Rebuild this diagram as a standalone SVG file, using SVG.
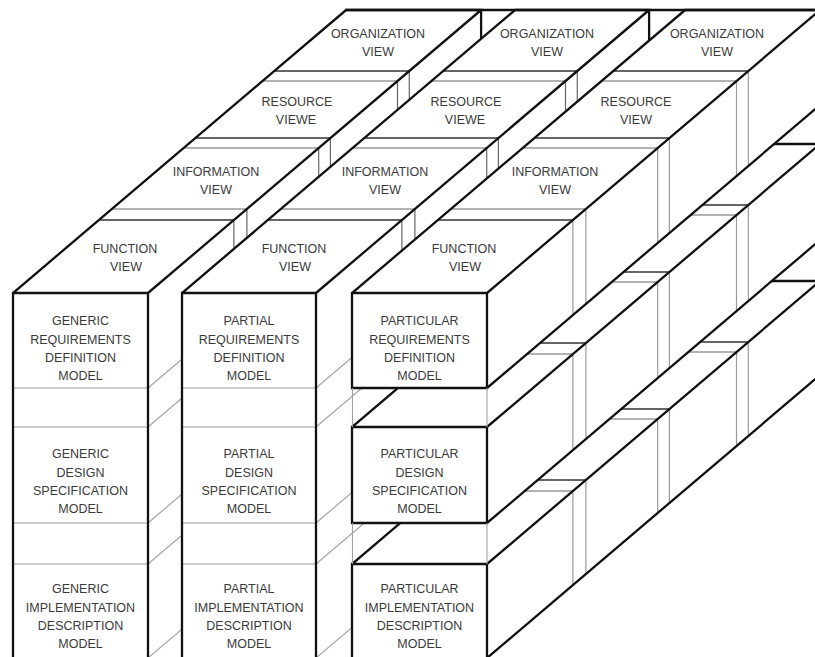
<svg xmlns="http://www.w3.org/2000/svg" width="815" height="657" viewBox="0 0 815 657">
<style>
.fill{fill:#fff;stroke:none}
.edge{fill:none;stroke:#111;stroke-width:2.3;stroke-linejoin:miter;stroke-linecap:square}
.dk{fill:none;stroke:#333;stroke-width:1.3}
.lt{fill:none;stroke:#999;stroke-width:1.3}
.vs{fill:none;stroke:#666;stroke-width:1.2}
.vr{fill:none;stroke:#9a9a9a;stroke-width:1.2}
.row{fill:none;stroke:#a0a0a0;stroke-width:1.1}
text{font-family:"Liberation Sans",Arial,sans-serif;font-size:12.5px;fill:#3a3a3a;text-anchor:middle}
</style>
<rect width="815" height="657" fill="#fff"/>

<!-- Generic column: one prism, views along depth, models down the front -->
<g id="generic">
  <polygon class="fill" points="13,293 346.1,10 481.1,10 481.1,375 148,658 13,658"/>
  <path class="row" d="M13,388H148M13,427H148M13,523H148M13,564H148M148,388L481.1,105M148,427L481.1,144M148,523L481.1,240M148,564L481.1,281M148,658L481.1,375"/>
  <path class="vs" d="M233.9,220V585M246.9,209V574M318.7,148V513M330.4,138V503M397.5,81V446M409.3,71V436"/>
  <path class="dk" d="M98.9,220H233.9M195.4,138H330.4M274.3,71H409.3"/>
  <path class="lt" d="M111.9,209H246.9M183.7,148H318.7M262.5,81H397.5"/>
  <path class="edge" d="M13,660V293L346.1,10H481.1V375M13,293H148L481.1,10M148,293V660"/>
  <g id="generic-function-view"><text x="125" y="253">FUNCTION</text><text x="126" y="271">VIEW</text></g>
  <g id="generic-information-view"><text x="216" y="176">INFORMATION</text><text x="216" y="194">VIEW</text></g>
  <g id="generic-resource-view"><text x="297" y="106">RESOURCE</text><text x="296" y="124">VIEWE</text></g>
  <g id="generic-organization-view"><text x="378" y="38">ORGANIZATION</text><text x="378" y="56">VIEW</text></g>
  <g id="generic-requirements"><text x="80.5" y="325">GENERIC</text><text x="80.5" y="343.5">REQUIREMENTS</text><text x="80.5" y="361.5">DEFINITION</text><text x="80.5" y="379.5">MODEL</text></g>
  <g id="generic-design"><text x="80.5" y="458">GENERIC</text><text x="80.5" y="476.5">DESIGN</text><text x="80.5" y="495">SPECIFICATION</text><text x="80.5" y="513">MODEL</text></g>
  <g id="generic-implementation"><text x="80.5" y="593">GENERIC</text><text x="80.5" y="611.5">IMPLEMENTATION</text><text x="80.5" y="630">DESCRIPTION</text><text x="80.5" y="648">MODEL</text></g>
</g>

<!-- Partial column -->
<g id="partial">
  <polygon class="fill" points="182,293 515.1,10 649.1,10 649.1,375 316,658 182,658"/>
  <path class="row" d="M182,388H316M182,427H316M182,523H316M182,564H316M316,388L649.1,105M316,427L649.1,144M316,523L649.1,240M316,564L649.1,281M316,658L649.1,375"/>
  <path class="vs" d="M401.9,220V585M414.9,209V574M486.7,148V513M498.4,138V503M565.5,81V446M577.3,71V436"/>
  <path class="dk" d="M267.9,220H401.9M364.4,138H498.4M443.3,71H577.3"/>
  <path class="lt" d="M280.9,209H414.9M352.7,148H486.7M431.5,81H565.5"/>
  <path class="edge" d="M182,660V293L515.1,10H649.1V375M182,293H316L649.1,10M316,293V660"/>
  <g id="partial-function-view"><text x="294" y="253">FUNCTION</text><text x="295" y="271">VIEW</text></g>
  <g id="partial-information-view"><text x="385" y="176">INFORMATION</text><text x="385" y="194">VIEW</text></g>
  <g id="partial-resource-view"><text x="466" y="106">RESOURCE</text><text x="465" y="124">VIEWE</text></g>
  <g id="partial-organization-view"><text x="547" y="38">ORGANIZATION</text><text x="547" y="56">VIEW</text></g>
  <g id="partial-requirements"><text x="249" y="325">PARTIAL</text><text x="249" y="343.5">REQUIREMENTS</text><text x="249" y="361.5">DEFINITION</text><text x="249" y="379.5">MODEL</text></g>
  <g id="partial-design"><text x="249" y="458">PARTIAL</text><text x="249" y="476.5">DESIGN</text><text x="249" y="495">SPECIFICATION</text><text x="249" y="513">MODEL</text></g>
  <g id="partial-implementation"><text x="249" y="593">PARTIAL</text><text x="249" y="611.5">IMPLEMENTATION</text><text x="249" y="630">DESCRIPTION</text><text x="249" y="648">MODEL</text></g>
</g>

<!-- Particular column: three separate prisms, lowest first -->
<g id="particular">
  <g id="particular-implementation">
    <polygon class="fill" points="352,564 685.1,281 820.1,281 820.1,375 487,658 352,658"/>
    <path class="dk" d="M450.9,480H585.9M534.4,409H669.4M613.3,342H748.3"/>
    <path class="lt" d="M437.9,491H572.9M522.7,419H657.7M601.5,352H736.5"/>
    <path class="vr" d="M572.9,491V585M585.9,480V574M657.7,419V513M669.4,409V503M736.5,352V446M748.3,342V436"/>
    <path class="edge" d="M352,660V564L685.1,281H820.1M352,564H487L820.1,281M487,564V660M487,658L820.1,375"/>
    <text x="419.5" y="593">PARTICULAR</text><text x="419.5" y="611.5">IMPLEMENTATION</text><text x="419.5" y="630">DESCRIPTION</text><text x="419.5" y="648">MODEL</text>
  </g>
  <g id="particular-design">
    <polygon class="fill" points="352,427 685.1,144 820.1,144 820.1,240 487,523 352,523"/>
    <path class="dk" d="M450.9,343H585.9M534.4,272H669.4M613.3,205H748.3"/>
    <path class="lt" d="M437.9,354H572.9M522.7,282H657.7M601.5,215H736.5"/>
    <path class="vr" d="M572.9,354V450M585.9,343V439M657.7,282V378M669.4,272V368M736.5,215V311M748.3,205V301"/>
    <path class="edge" d="M352,523V427L685.1,144H820.1M352,427H487L820.1,144M487,427V523M352,523H487L820.1,240"/>
    <text x="419.5" y="458">PARTICULAR</text><text x="419.5" y="476.5">DESIGN</text><text x="419.5" y="495">SPECIFICATION</text><text x="419.5" y="513">MODEL</text>
  </g>
  <g id="particular-requirements">
    <polygon class="fill" points="352,293 685.1,10 820.1,10 820.1,105 487,388 352,388"/>
    <path class="dk" d="M437.9,220H572.9M534.4,138H669.4M613.3,71H748.3"/>
    <path class="lt" d="M450.9,209H585.9M522.7,148H657.7M601.5,81H736.5"/>
    <path class="vr" d="M572.9,220V315M585.9,209V304M657.7,148V243M669.4,138V233M736.5,81V176M748.3,71V166"/>
    <path class="edge" d="M352,388V293L685.1,10H820.1M352,293H487L820.1,10M487,293V388M352,388H487L820.1,105"/>
    <text x="419.5" y="325">PARTICULAR</text><text x="419.5" y="343.5">REQUIREMENTS</text><text x="419.5" y="361.5">DEFINITION</text><text x="419.5" y="379.5">MODEL</text>
  </g>
  <g id="particular-function-view"><text x="464" y="253">FUNCTION</text><text x="465" y="271">VIEW</text></g>
  <g id="particular-information-view"><text x="555" y="176">INFORMATION</text><text x="555" y="194">VIEW</text></g>
  <g id="particular-resource-view"><text x="636" y="106">RESOURCE</text><text x="636" y="124">VIEW</text></g>
  <g id="particular-organization-view"><text x="717" y="38">ORGANIZATION</text><text x="717" y="56">VIEW</text></g>
</g>

<!-- back rim and gap guides -->
<g id="frame">
  <path class="edge" d="M346.1,10H815"/>
  <path class="row" d="M352.5,388V427M352.5,523V564M487,388V427M487,523V564"/>
</g>
</svg>
